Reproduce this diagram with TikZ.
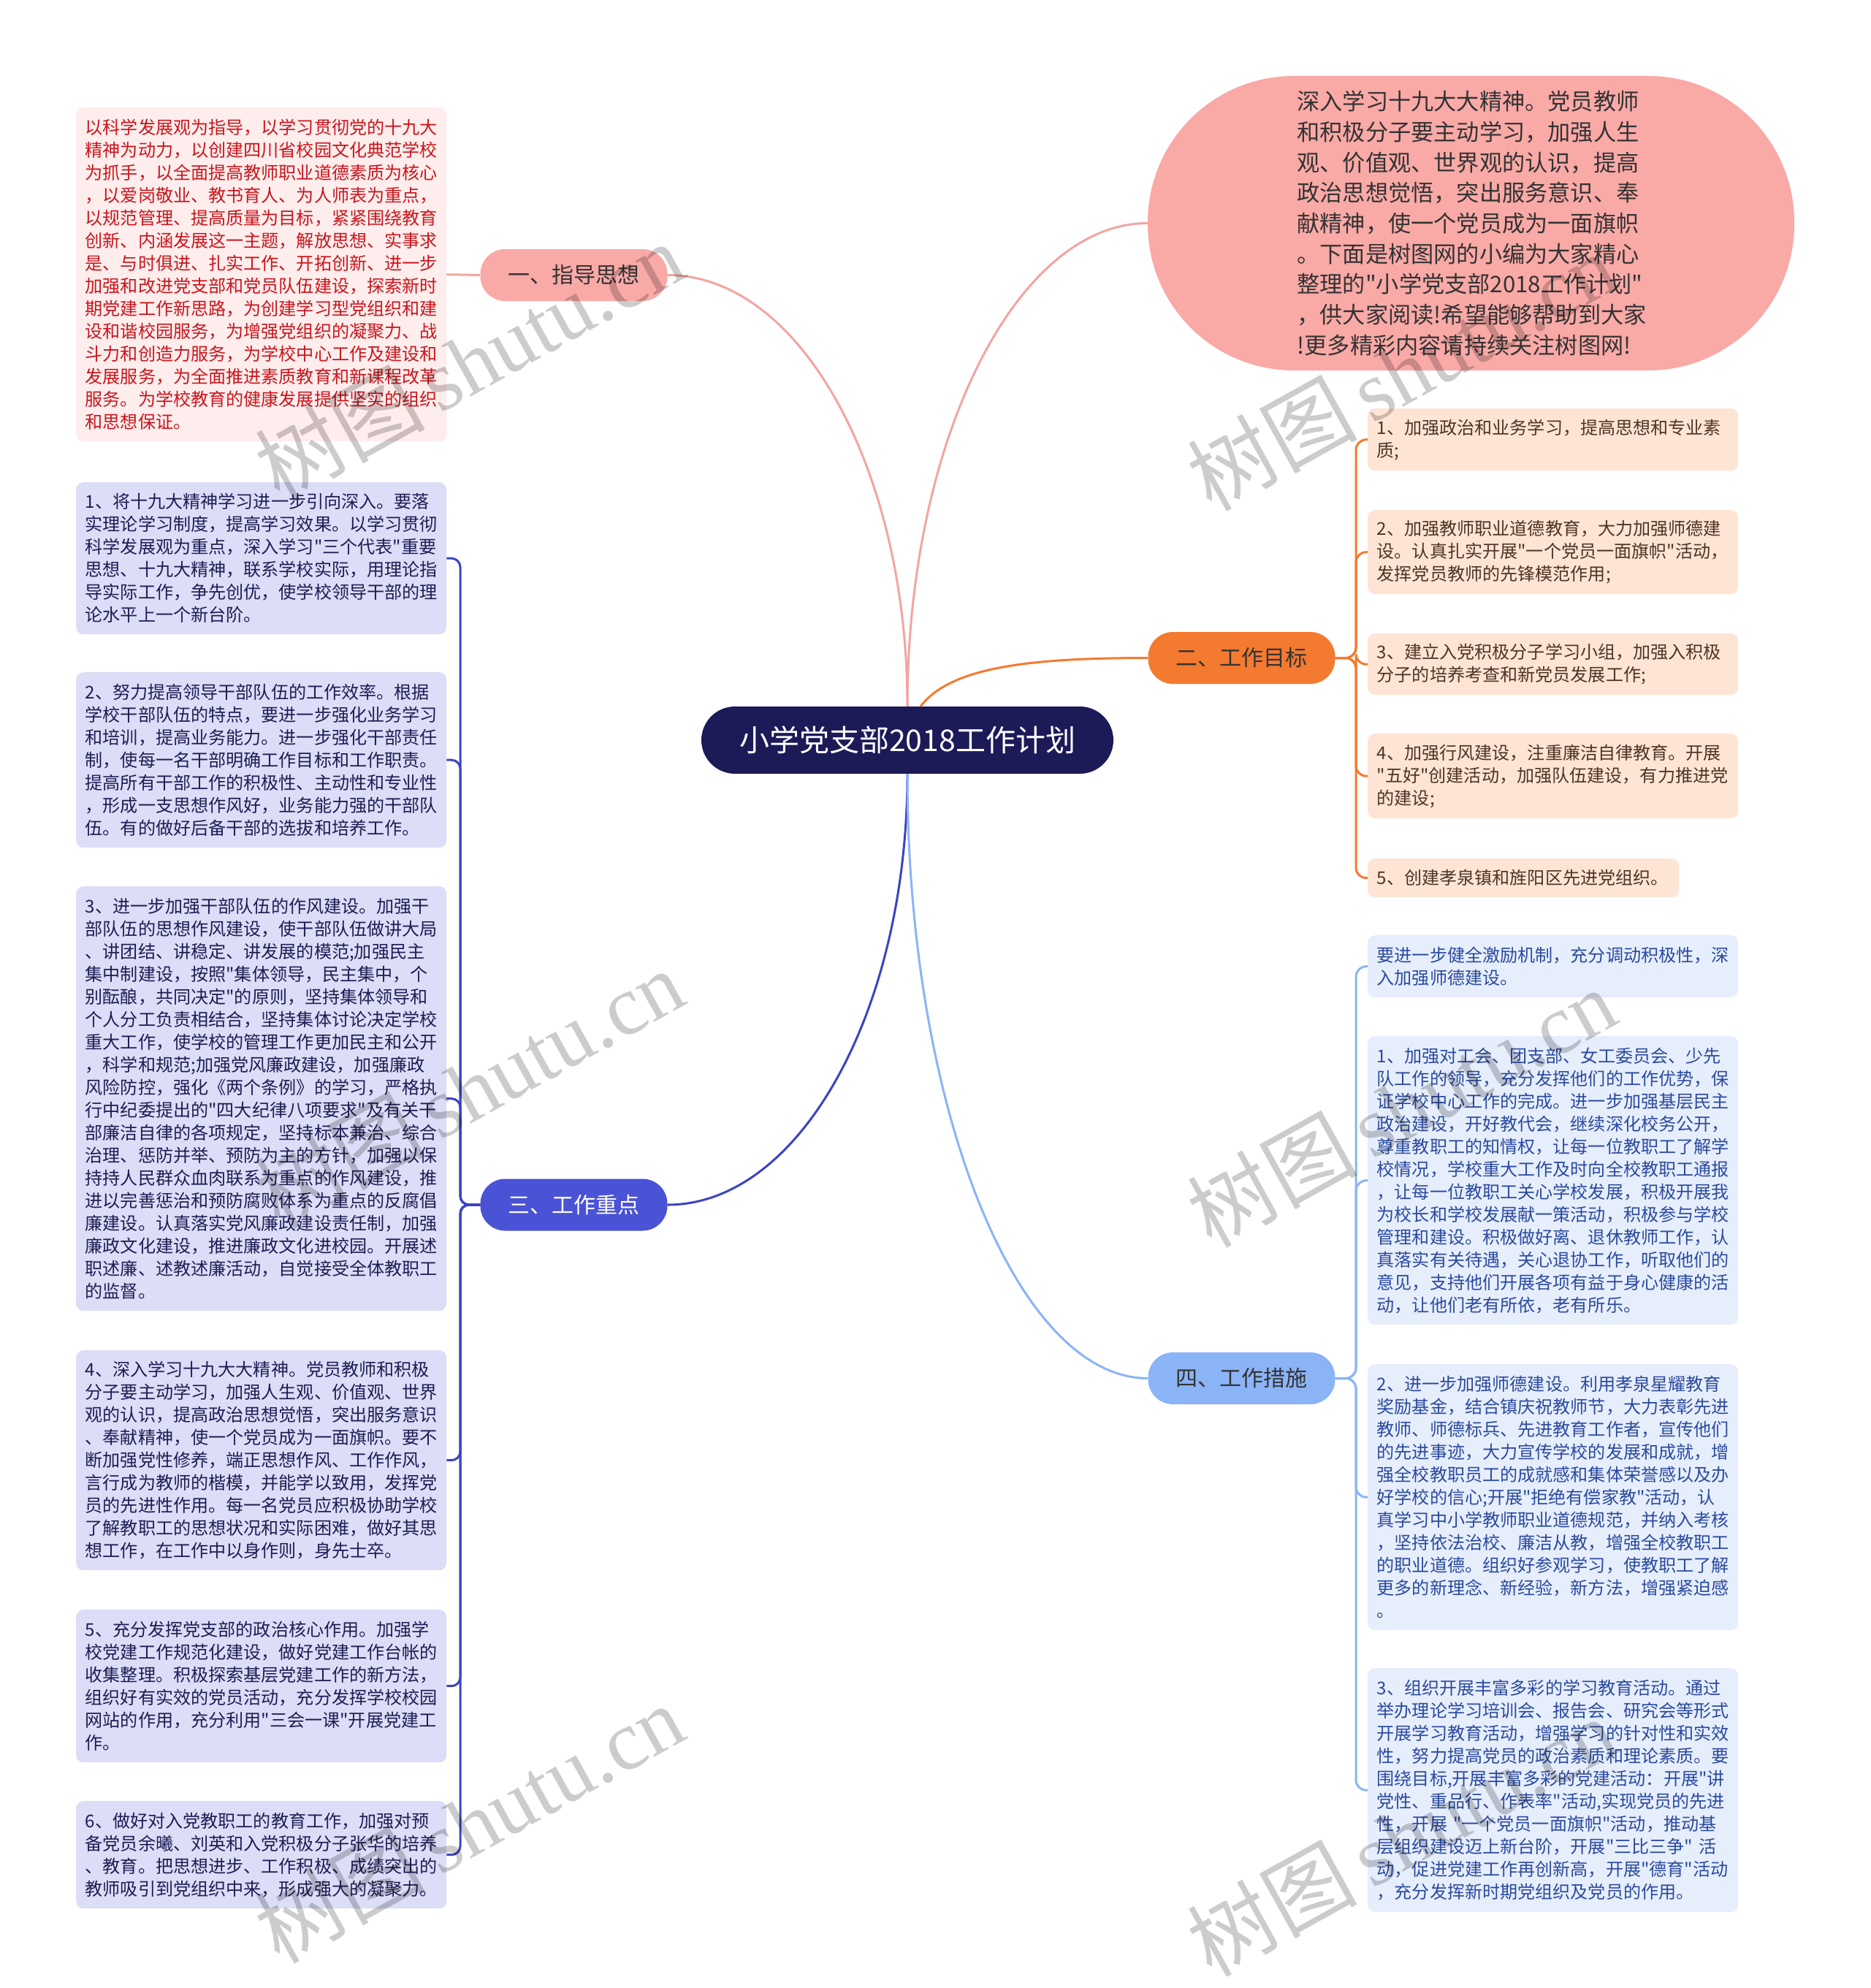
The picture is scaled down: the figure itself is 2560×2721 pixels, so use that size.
\documentclass[tikz,border=0pt]{standalone}
\usepackage{fontspec}
\setmainfont{Noto Sans CJK SC}[Ligatures=TeXOff]
\newfontfamily\wmserif{Liberation Serif}
\definecolor{cnavy}{HTML}{1C1A57}
\definecolor{cpink}{HTML}{F9A9A6}
\definecolor{cpinkline}{HTML}{F2A5A2}
\definecolor{corange}{HTML}{F47A30}
\definecolor{cpurple}{HTML}{4A52D5}
\definecolor{cpurline}{HTML}{3C44BF}
\definecolor{clblue}{HTML}{8BB4F7}
\definecolor{redbg}{HTML}{FDEDEC}
\definecolor{redtxt}{HTML}{C8161D}
\definecolor{purbg}{HTML}{DCDDF6}
\definecolor{purtxt}{HTML}{1E1D55}
\definecolor{orbg}{HTML}{FDE4D5}
\definecolor{ortxt}{HTML}{4F3426}
\definecolor{blbg}{HTML}{E6EEFC}
\definecolor{bltxt}{HTML}{2B4A9F}
\definecolor{darktxt}{HTML}{333333}
\begin{document}
\begin{tikzpicture}[x=1pt,y=-1pt,
 box/.style={anchor=north west, rounded corners=10pt, inner xsep=12.5pt, inner ysep=0pt, text width=482pt, align=left, font=\fontsize{24.1pt}{31pt}\selectfont},
 redbox/.style={box, fill=redbg, text=redtxt},
 purbox/.style={box, fill=purbg, text=purtxt},
 orbox/.style={box, fill=orbg, text=ortxt},
 blbox/.style={box, fill=blbg, text=bltxt},
 branch/.style={rounded corners=34pt, minimum width=256pt, minimum height=71pt, inner sep=0pt, font=\fontsize{30pt}{30pt}\selectfont},
 conn/.style={line width=3pt},
 wm/.style={text=black, opacity=0.2, font=\fontsize{116pt}{116pt}\selectfont, rotate=29, inner sep=0pt}
]
\useasboundingbox (0,0) rectangle (2560,2721);
\fill[white] (0,0) rectangle (2560,2721);

% centre and branches
\node[fill=cnavy, rounded corners=46pt, minimum width=564pt, minimum height=92pt, inner sep=0pt, text=white, font=\fontsize{41pt}{41pt}\selectfont] (c) at (1242,1013) {小学党支部2018工作计划};
\node[branch, fill=cpink, text=darktxt] (b1) at (785.5,376.5) {一、指导思想};
\node[branch, fill=corange, text=darktxt] (b2) at (1699.5,900.5) {二、工作目标};
\node[branch, fill=cpurple, text=white] (b3) at (785.5,1649) {三、工作重点};
\node[branch, fill=clblue, text=darktxt] (b4) at (1699.5,1886.5) {四、工作措施};

% top right intro
\node[fill=cpink, rounded corners=200pt, minimum width=885pt, minimum height=403pt, inner sep=0pt, text width=476pt, align=left, text=darktxt, font=\fontsize{31.2pt}{41.7pt}\selectfont] (e) at (2013.5,305.5) {深入学习十九大大精神。党员教师\\和积极分子要主动学习，加强人生\\观、价值观、世界观的认识，提高\\政治思想觉悟，突出服务意识、奉\\献精神，使一个党员成为一面旗帜\\。下面是树图网的小编为大家精心\\整理的"小学党支部2018工作计划"\\，供大家阅读!希望能够帮助到大家\\!更多精彩内容请持续关注树图网!};

% left: guiding thought
\node[redbox, minimum height=457pt] (R) at (104,147) {以科学发展观为指导，以学习贯彻党的十九大\\精神为动力，以创建四川省校园文化典范学校\\为抓手，以全面提高教师职业道德素质为核心\\，以爱岗敬业、教书育人、为人师表为重点，\\以规范管理、提高质量为目标，紧紧围绕教育\\创新、内涵发展这一主题，解放思想、实事求\\是、与时俱进、扎实工作、开拓创新、进一步\\加强和改进党支部和党员队伍建设，探索新时\\期党建工作新思路，为创建学习型党组织和建\\设和谐校园服务，为增强党组织的凝聚力、战\\斗力和创造力服务，为学校中心工作及建设和\\发展服务，为全面推进素质教育和新课程改革\\服务。为学校教育的健康发展提供坚实的组织\\和思想保证。};

% left: key work
\node[purbox, minimum height=208pt] (L1) at (104,660) {1、将十九大精神学习进一步引向深入。要落\\实理论学习制度，提高学习效果。以学习贯彻\\科学发展观为重点，深入学习"三个代表"重要\\思想、十九大精神，联系学校实际，用理论指\\导实际工作，争先创优，使学校领导干部的理\\论水平上一个新台阶。};
\node[purbox, minimum height=240pt] (L2) at (104,920) {2、努力提高领导干部队伍的工作效率。根据\\学校干部队伍的特点，要进一步强化业务学习\\和培训，提高业务能力。进一步强化干部责任\\制，使每一名干部明确工作目标和工作职责。\\提高所有干部工作的积极性、主动性和专业性\\，形成一支思想作风好，业务能力强的干部队\\伍。有的做好后备干部的选拔和培养工作。};
\node[purbox, minimum height=581pt] (L3) at (104,1213) {3、进一步加强干部队伍的作风建设。加强干\\部队伍的思想作风建设，使干部队伍做讲大局\\、讲团结、讲稳定、讲发展的模范;加强民主\\集中制建设，按照"集体领导，民主集中，个\\别酝酿，共同决定"的原则，坚持集体领导和\\个人分工负责相结合，坚持集体讨论决定学校\\重大工作，使学校的管理工作更加民主和公开\\，科学和规范;加强党风廉政建设，加强廉政\\风险防控，强化《两个条例》的学习，严格执\\行中纪委提出的"四大纪律八项要求"及有关干\\部廉洁自律的各项规定，坚持标本兼治、综合\\治理、惩防并举、预防为主的方针，加强以保\\持持人民群众血肉联系为重点的作风建设，推\\进以完善惩治和预防腐败体系为重点的反腐倡\\廉建设。认真落实党风廉政建设责任制，加强\\廉政文化建设，推进廉政文化进校园。开展述\\职述廉、述教述廉活动，自觉接受全体教职工\\的监督。};
\node[purbox, minimum height=301pt] (L4) at (104,1848) {4、深入学习十九大大精神。党员教师和积极\\分子要主动学习，加强人生观、价值观、世界\\观的认识，提高政治思想觉悟，突出服务意识\\、奉献精神，使一个党员成为一面旗帜。要不\\断加强党性修养，端正思想作风、工作作风，\\言行成为教师的楷模，并能学以致用，发挥党\\员的先进性作用。每一名党员应积极协助学校\\了解教职工的思想状况和实际困难，做好其思\\想工作，在工作中以身作则，身先士卒。};
\node[purbox, minimum height=209pt] (L5) at (104,2203) {5、充分发挥党支部的政治核心作用。加强学\\校党建工作规范化建设，做好党建工作台帐的\\收集整理。积极探索基层党建工作的新方法，\\组织好有实效的党员活动，充分发挥学校校园\\网站的作用，充分利用"三会一课"开展党建工\\作。};
\node[purbox, minimum height=147pt] (L6) at (104,2465) {6、做好对入党教职工的教育工作，加强对预\\备党员余曦、刘英和入党积极分子张华的培养\\、教育。把思想进步、工作积极、成绩突出的\\教师吸引到党组织中来，形成强大的凝聚力。};

% right: goals
\node[orbox, minimum height=85pt] (O1) at (1872,559) {1、加强政治和业务学习，提高思想和专业素\\质;};
\node[orbox, minimum height=115pt] (O2) at (1872,698) {2、加强教师职业道德教育，大力加强师德建\\设。认真扎实开展"一个党员一面旗帜"活动，\\发挥党员教师的先锋模范作用;};
\node[orbox, minimum height=84pt] (O3) at (1872,867) {3、建立入党积极分子学习小组，加强入积极\\分子的培养考查和新党员发展工作;};
\node[orbox, minimum height=116pt] (O4) at (1872,1004) {4、加强行风建设，注重廉洁自律教育。开展\\"五好"创建活动，加强队伍建设，有力推进党\\的建设;};
\node[orbox, minimum height=53pt, text width=401pt] (O5) at (1872,1175) {5、创建孝泉镇和旌阳区先进党组织。};

% right: measures
\node[blbox, minimum height=85pt] (B0) at (1872,1280) {要进一步健全激励机制，充分调动积极性，深\\入加强师德建设。};
\node[blbox, minimum height=395pt] (B1) at (1872,1418) {1、加强对工会、团支部、女工委员会、少先\\队工作的领导，充分发挥他们的工作优势，保\\证学校中心工作的完成。进一步加强基层民主\\政治建设，开好教代会，继续深化校务公开，\\尊重教职工的知情权，让每一位教职工了解学\\校情况，学校重大工作及时向全校教职工通报\\，让每一位教职工关心学校发展，积极开展我\\为校长和学校发展献一策活动，积极参与学校\\管理和建设。积极做好离、退休教师工作，认\\真落实有关待遇，关心退协工作，听取他们的\\意见，支持他们开展各项有益于身心健康的活\\动，让他们老有所依，老有所乐。};
\node[blbox, minimum height=364pt] (B2) at (1872,1867) {2、进一步加强师德建设。利用孝泉星耀教育\\奖励基金，结合镇庆祝教师节，大力表彰先进\\教师、师德标兵、先进教育工作者，宣传他们\\的先进事迹，大力宣传学校的发展和成就，增\\强全校教职员工的成就感和集体荣誉感以及办\\好学校的信心;开展"拒绝有偿家教"活动，认\\真学习中小学教师职业道德规范，并纳入考核\\，坚持依法治校、廉洁从教，增强全校教职工\\的职业道德。组织好参观学习，使教职工了解\\更多的新理念、新经验，新方法，增强紧迫感\\。};
\node[blbox, minimum height=334pt] (B3) at (1872,2283) {3、组织开展丰富多彩的学习教育活动。通过\\举办理论学习培训会、报告会、研究会等形式\\开展学习教育活动，增强学习的针对性和实效\\性，努力提高党员的政治素质和理论素质。要\\围绕目标,开展丰富多彩的党建活动：开展"讲\\党性、重品行、作表率"活动,实现党员的先进\\性，开展~"一个党员一面旗帜"活动，推动基\\层组织建设迈上新台阶，开展"三比三争"~活\\动，促进党建工作再创新高，开展"德育"活动\\，充分发挥新时期党组织及党员的作用。};

% connectors from the centre
\draw[conn, draw=cpinkline] (c.north) .. controls (1242,642) and (1095,376.5) .. (b1.east);
\draw[conn, draw=cpinkline] (c.north) .. controls (1242,603) and (1391,305.5) .. (e.west);
\draw[conn, draw=corange] ([xshift=18pt]c.north) .. controls (1300,915) and (1400,900.5) .. (b2.west);
\draw[conn, draw=cpurline] (c.south) .. controls (1242,1383) and (1095,1649) .. (b3.east);
\draw[conn, draw=clblue] (c.south) .. controls (1242,1514) and (1391,1886.5) .. (b4.west);

% connectors to leaves
\draw[conn, draw=cpinkline] (b1.west) -- (R.east);
\foreach \n in {L1,L2,L3,L4,L5,L6}
  \draw[conn, draw=cpurline, rounded corners=12pt] (b3.west) -- (630,1649) |- (\n.east);
\foreach \n in {O1,O2,O3,O4,O5}
  \draw[conn, draw=corange, rounded corners=14pt] (b2.east) -- (1856,900.5) |- (\n.west);
\foreach \n in {B0,B1,B2,B3}
  \draw[conn, draw=clblue, rounded corners=14pt] (b4.east) -- (1856,1886.5) |- (\n.west);

% watermarks
\node[wm] (w1) at (642,494) {树图\,{\wmserif shutu.cn}};
\node[wm] (w2) at (642,1489) {树图\,{\wmserif shutu.cn}};
\node[wm] (w3) at (642,2495) {树图\,{\wmserif shutu.cn}};
\node[wm] (w4) at (1918,508) {树图\,{\wmserif shutu.cn}};
\node[wm] (w5) at (1918,1515) {树图\,{\wmserif shutu.cn}};
\node[wm] (w6) at (1918,2513) {树图\,{\wmserif shutu.cn}};
\end{tikzpicture}
\end{document}
